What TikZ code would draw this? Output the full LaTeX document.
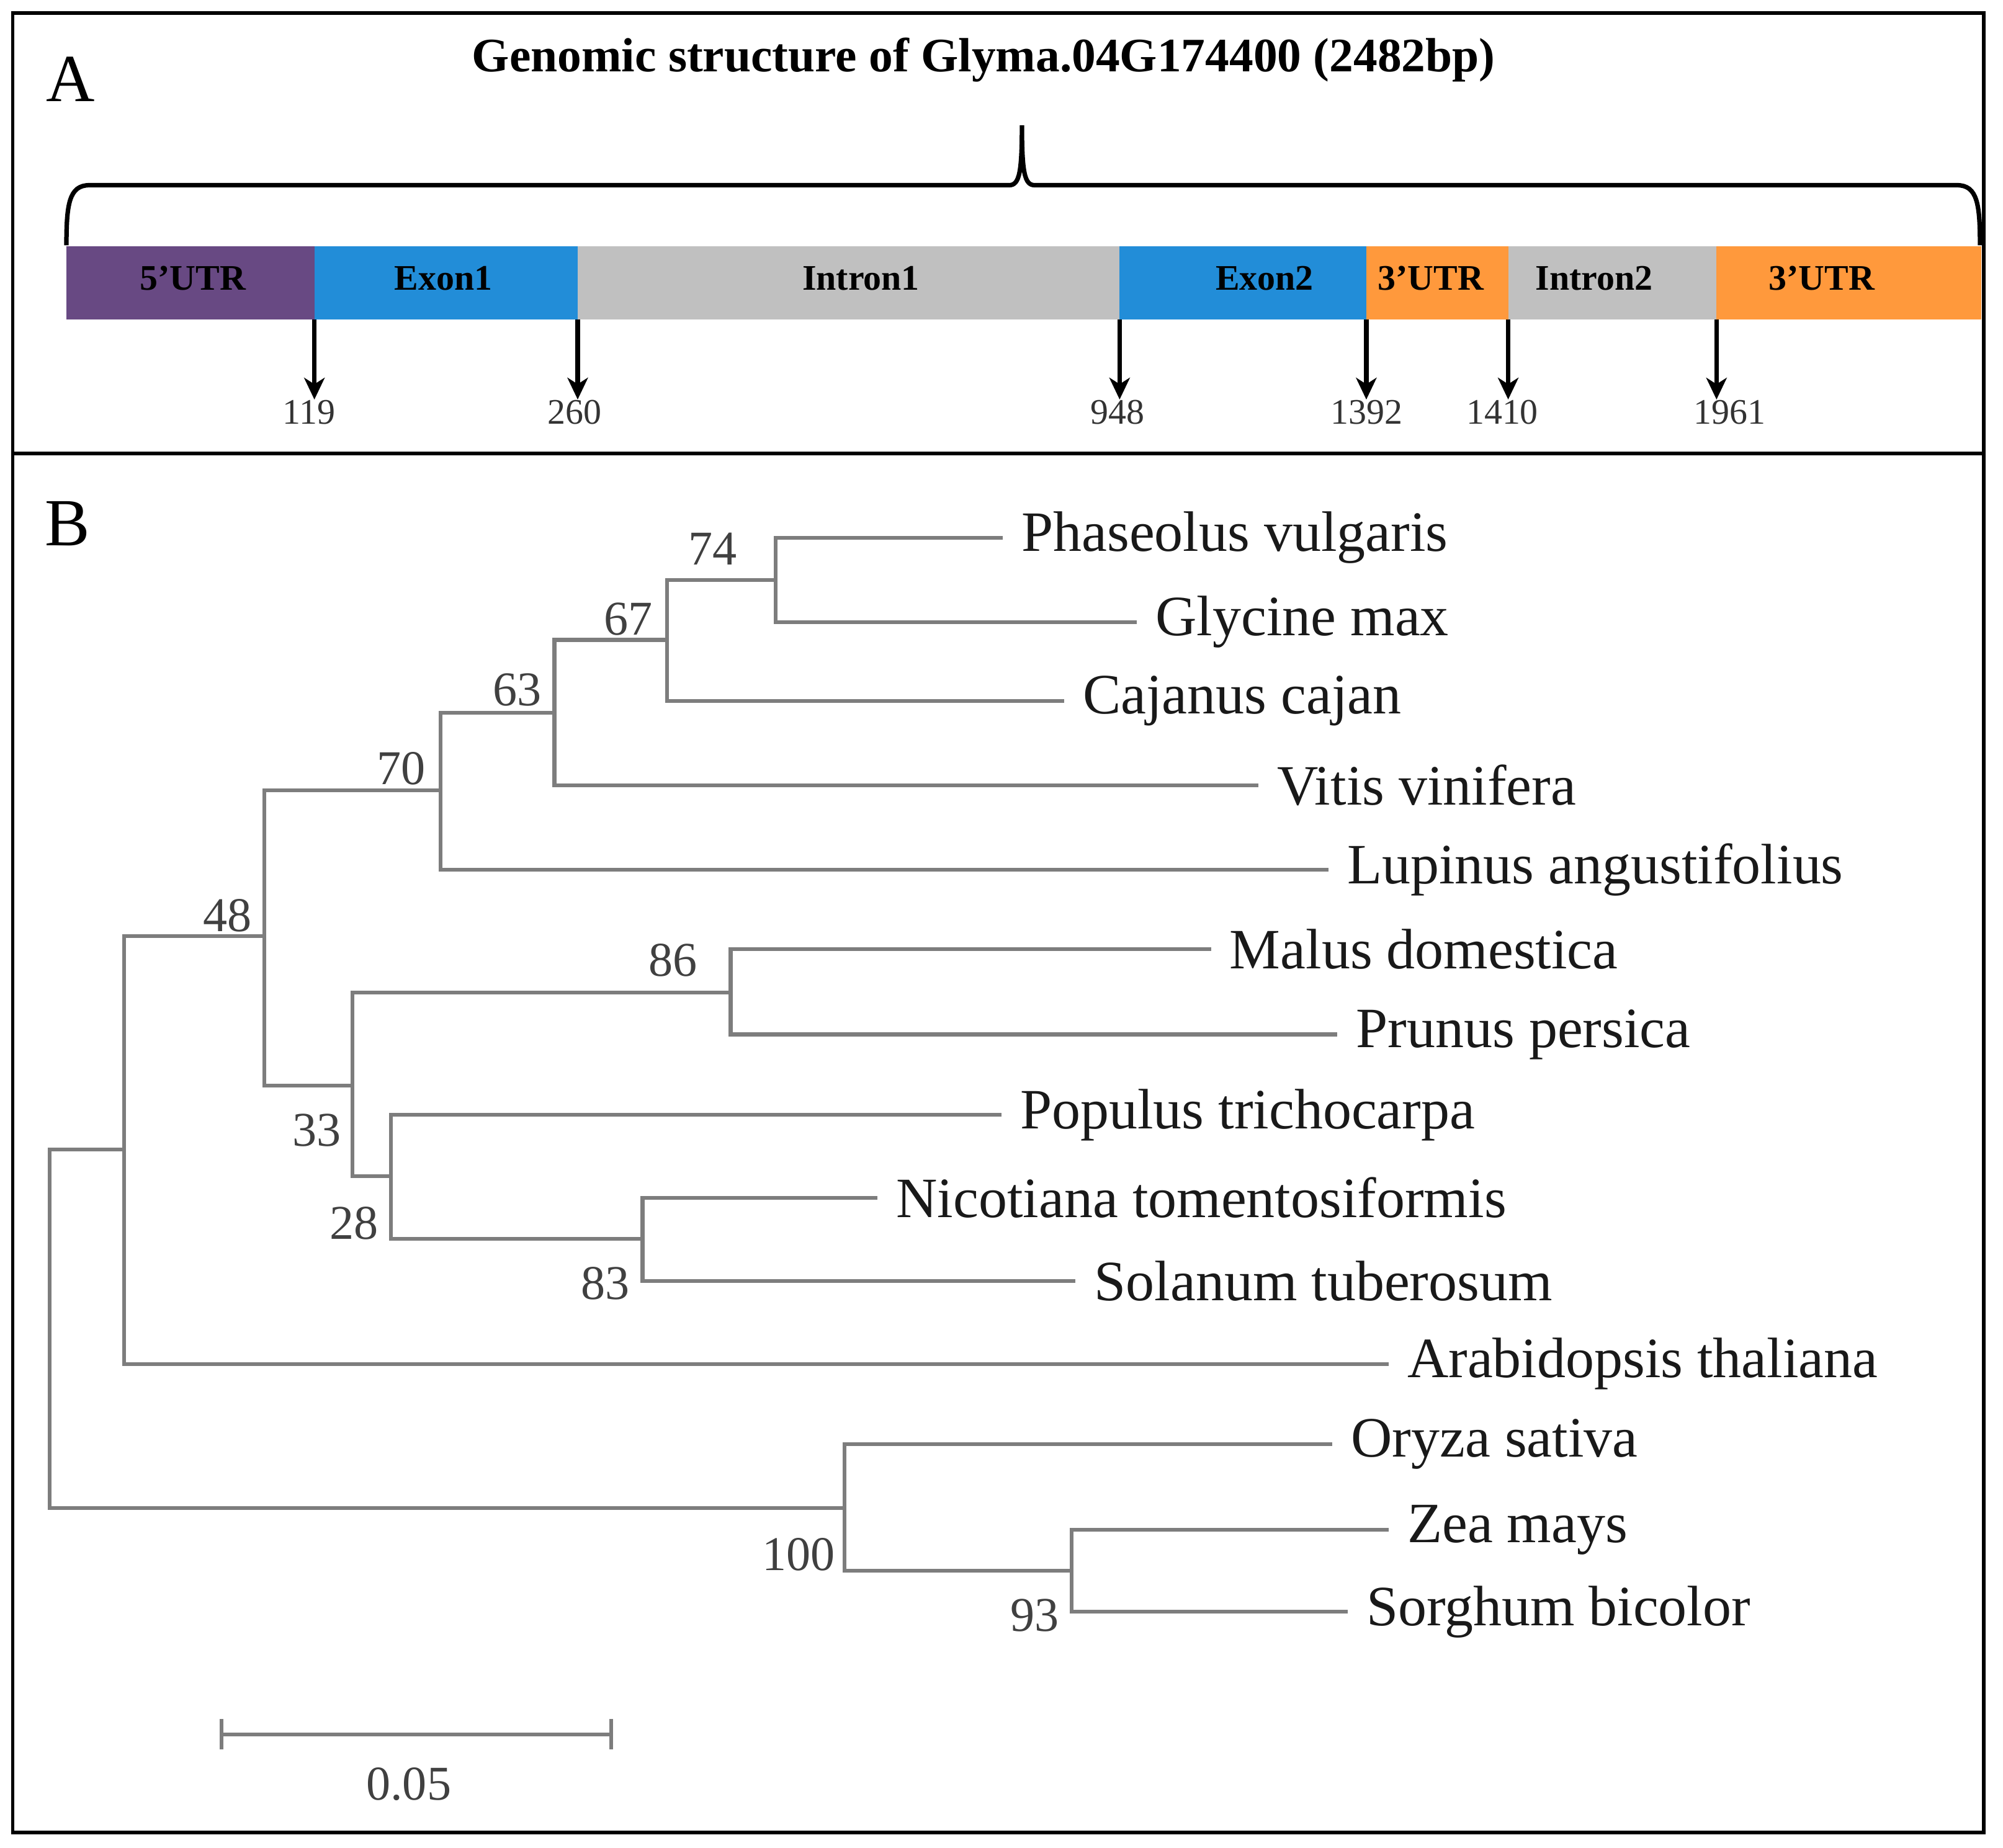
\documentclass[tikz,border=0pt]{standalone}
\usepackage{fontspec}
\setmainfont{Liberation Serif}
\usepackage{tikz}
\usetikzlibrary{arrows.meta,positioning}

\definecolor{utrpurple}{RGB}{104,73,131}
\definecolor{exonblue}{RGB}{34,141,216}
\definecolor{introngray}{RGB}{192,192,192}
\definecolor{utrorange}{RGB}{255,153,60}
\definecolor{treegray}{RGB}{125,125,125}

\tikzset{
  seg/.style={rectangle, inner sep=0pt, outer sep=0pt, minimum height=0.57cm},
  seglab/.style={font=\fontsize{8}{9}\selectfont\bfseries},
  bpnum/.style={inner sep=0pt, font=\fontsize{8}{9}\selectfont, text=black!80},
  cut/.style={-{Stealth[length=0.17cm,width=0.16cm,inset=0.05cm]}, line width=1pt},
  branch/.style={treegray, line width=0.85pt},
  leaf/.style={anchor=west, inner xsep=0.14cm, inner ysep=0pt, font=\fontsize{12.7}{14}\selectfont, text=black!90},
  boot/.style={font=\fontsize{10.8}{12}\selectfont, text=black!75},
  panel/.style={font=\fontsize{15}{17}\selectfont},
}

\begin{document}
\begin{tikzpicture}[x=0.01cm, y=-0.01cm]
\useasboundingbox (0,0) rectangle (1568,1447);
\draw [line width=0.8pt] (10,10) rectangle (1553,1435);
\draw [line width=0.8pt] (10,355) -- (1553,355);
\draw (55,62) node [panel] (pa) {A};
\draw (53,410) node [panel] (pb) {B};

% gene structure
\draw (770,47) node [font=\fontsize{10.7}{12}\selectfont\bfseries] (title) {Genomic structure of Glyma.04G174400 (2482bp)};
\draw [line width=1pt] (52,192) .. controls (52,160) and (54,145) .. (70,145) -- (790,145)
  .. controls (798,145) and (800,135) .. (800,98) .. controls (800,135) and (802,145) .. (810,145)
  -- (1532,145) .. controls (1548,145) and (1550,160) .. (1550,192);
\node [seg, anchor=west, fill=utrpurple, minimum width=1.94cm] (utr5) at (52,221.5) {};
\node [seg, fill=exonblue, minimum width=2.06cm, right=0pt of utr5] (ex1) {};
\node [seg, fill=introngray, minimum width=4.24cm, right=0pt of ex1] (int1) {};
\node [seg, fill=exonblue, minimum width=1.93cm, right=0pt of int1] (ex2) {};
\node [seg, fill=utrorange, minimum width=1.11cm, right=0pt of ex2] (utr3a) {};
\node [seg, fill=introngray, minimum width=1.63cm, right=0pt of utr3a] (int2) {};
\node [seg, fill=utrorange, minimum width=2.07cm, right=0pt of int2] (utr3b) {};
\draw (151,218) node [seglab] (lutr5) {5’UTR};
\draw (347,218) node [seglab] (lex1) {Exon1};
\draw (674,218) node [seglab] (lint1) {Intron1};
\draw (990,218) node [seglab] (lex2) {Exon2};
\draw (1120,218) node [seglab] (lutr3a) {3’UTR};
\draw (1248,218) node [seglab] (lint2) {Intron2};
\draw (1426,218) node [seglab] (lutr3b) {3’UTR};
\draw (242,323) node [bpnum] (p119) {119};
\draw (450,323) node [bpnum] (p260) {260};
\draw (875,323) node [bpnum] (p948) {948};
\draw (1070,323) node [bpnum] (p1392) {1392};
\draw (1176,323) node [bpnum] (p1410) {1410};
\draw (1354,323) node [bpnum] (p1961) {1961};
\draw [cut] (ex1.south west) -- (ex1.south west |- p119.north);
\draw [cut] (int1.south west) -- (int1.south west |- p260.north);
\draw [cut] (ex2.south west) -- (ex2.south west |- p948.north);
\draw [cut] (utr3a.south west) -- (utr3a.south west |- p1392.north);
\draw [cut] (int2.south west) -- (int2.south west |- p1410.north);
\draw [cut] (utr3b.south west) -- (utr3b.south west |- p1961.north);

% tree
\coordinate (root) at (39,1040);
\coordinate (nin) at (97,900);
\coordinate (n48) at (207,733);
\coordinate (n70) at (345,619);
\coordinate (n63) at (434,558);
\coordinate (n67) at (522,501);
\coordinate (n74) at (607,454);
\coordinate (n33) at (276,850);
\coordinate (n86) at (572,777);
\coordinate (n28) at (306,921);
\coordinate (n83) at (503,970);
\coordinate (n100) at (661,1181);
\coordinate (n93) at (839,1230);
\node [leaf] (phv) at (785,421) {Phaseolus vulgaris};
\node [leaf] (gm) at (890,487) {Glycine max};
\node [leaf] (cc) at (833,549) {Cajanus cajan};
\node [leaf] (vv) at (985,615) {Vitis vinifera};
\node [leaf] (la) at (1040,681) {Lupinus angustifolius};
\node [leaf] (md) at (948,743) {Malus domestica};
\node [leaf] (pp) at (1047,810) {Prunus persica};
\node [leaf] (pt) at (784,873) {Populus trichocarpa};
\node [leaf] (nt) at (687,938) {Nicotiana tomentosiformis};
\node [leaf] (st) at (842,1003) {Solanum tuberosum};
\node [leaf] (at) at (1087,1068) {Arabidopsis thaliana};
\node [leaf] (os) at (1043,1131) {Oryza sativa};
\node [leaf] (zm) at (1087,1198) {Zea mays};
\node [leaf] (sb) at (1055,1262) {Sorghum bicolor};
\draw [branch] (root) |- (nin);
\draw [branch] (root) |- (n100);
\draw [branch] (nin) |- (n48);
\draw [branch] (nin) |- (at.west);
\draw [branch] (n48) |- (n70);
\draw [branch] (n48) |- (n33);
\draw [branch] (n70) |- (n63);
\draw [branch] (n70) |- (la.west);
\draw [branch] (n63) |- (n67);
\draw [branch] (n63) |- (vv.west);
\draw [branch] (n67) |- (n74);
\draw [branch] (n67) |- (cc.west);
\draw [branch] (n74) |- (phv.west);
\draw [branch] (n74) |- (gm.west);
\draw [branch] (n33) |- (n86);
\draw [branch] (n33) |- (n28);
\draw [branch] (n86) |- (md.west);
\draw [branch] (n86) |- (pp.west);
\draw [branch] (n28) |- (pt.west);
\draw [branch] (n28) |- (n83);
\draw [branch] (n83) |- (nt.west);
\draw [branch] (n83) |- (st.west);
\draw [branch] (n100) |- (os.west);
\draw [branch] (n100) |- (n93);
\draw [branch] (n93) |- (zm.west);
\draw [branch] (n93) |- (sb.west);
% bootstrap values
\draw (558,430) node [boot] (b74) {74};
\draw (492,485) node [boot] (b67) {67};
\draw (405,540) node [boot] (b63) {63};
\draw (314,602) node [boot] (b70) {70};
\draw (178,717) node [boot] (b48) {48};
\draw (527,752) node [boot] (b86) {86};
\draw (248,885) node [boot] (b33) {33};
\draw (277,958) node [boot] (b28) {28};
\draw (474,1005) node [boot] (b83) {83};
\draw (625,1217) node [boot] (b100) {100};
\draw (810,1265) node [boot] (b93) {93};

% scale bar
\coordinate (sbl) at (172,1358);
\coordinate (sbr) at (480,1358);
\draw [branch, {Bar[width=0.24cm]}-{Bar[width=0.24cm]}] (sbl) -- (sbr);
\draw (320,1397) node [boot] (sbt) {0.05};
\end{tikzpicture}
\end{document}
